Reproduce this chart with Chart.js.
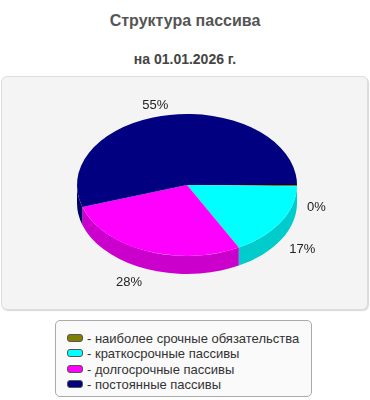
<!DOCTYPE html>
<html>
<head>
<meta charset="utf-8">
<script src="https://cdn.jsdelivr.net/npm/chart.js@4"></script>
<style>
  body { margin: 0; width: 370px; height: 400px; background: #fff; font-family: "Liberation Sans", Arial, sans-serif; position: relative; overflow: hidden; }
  .title { position: absolute; left: 0; width: 370px; text-align: center; font-weight: bold; }
  #t1 { top: 12px; font-size: 16px; color: #555; }
  #t2 { top: 51px; font-size: 14px; color: #444; }
  #panel { position: absolute; left: 1px; top: 76px; width: 365px; height: 232px; background: #f4f4f4; border: 1px solid #ddd; border-radius: 6px; box-shadow: 1px 1px 1px #d8d8d8; }
  #legend { position: absolute; left: 55px; top: 320px; width: 255px; height: 75px; background: #fafafa; border: 1px solid #aaa; border-radius: 5px; box-sizing: content-box; }
  .row { position: absolute; left: 11px; height: 15px; font-size: 13px; color: #333; line-height: 15px; white-space: nowrap; }
  .sw { display: inline-block; width: 14px; height: 6px; border: 1px solid #555; border-radius: 3px; margin-right: 4px; vertical-align: 1px; }
  #c { position: absolute; left: 0; top: 0; }
</style>
</head>
<body>
<div class="title" id="t1">Структура пассива</div>
<div class="title" id="t2">на 01.01.2026 г.</div>
<div id="panel"></div>
<div id="legend"></div>
<canvas id="c" width="370" height="400"></canvas>
<script>
const categories = ["наиболее срочные обязательства", "краткосрочные пассивы", "долгосрочные пассивы", "постоянные пассивы"];
const values = [0.3, 16.9, 27.8, 55.0];
const colors = ["#808000", "#00ffff", "#ff00ff", "#000080"];
const sideColors = ["#666600", "#00cccc", "#cc00cc", "#000066"];

const tilt = 0.645;
const depth = 18;
const total = values.reduce((a, b) => a + b, 0);

// html legend
const legend = document.getElementById("legend");
categories.forEach((name, i) => {
    const row = document.createElement("div");
    row.className = "row";
    row.style.top = (10 + i * 15.3) + "px";
    row.innerHTML = '<span class="sw" style="background:' + colors[i] + '"></span>- ' + name;
    legend.appendChild(row);
});

const norm = (a) => {
    const t = Math.PI * 2;
    return ((a % t) + t) % t;
};

const pie3d = {
    id: "pie3d",
    beforeDatasetsDraw(chart) {
        const ctx = chart.ctx;
        const arcs = chart.getDatasetMeta(0).data;
        const cx = arcs[0].x, cy = arcs[0].y;
        const rx = arcs[0].outerRadius, ry = rx * tilt;
        // side walls, front half only
        arcs.forEach((arc, i) => {
            let a0 = norm(arc.startAngle);
            let a1 = a0 + (arc.endAngle - arc.startAngle);
            const segs = [[a0, a1], [a0 - Math.PI * 2, a1 - Math.PI * 2]];
            segs.forEach(([s, e]) => {
                const s1 = Math.max(s, 0), e1 = Math.min(e, Math.PI);
                if (e1 <= s1) return;
                ctx.save();
                ctx.beginPath();
                ctx.ellipse(cx, cy, rx, ry, 0, s1, e1, false);
                ctx.lineTo(cx + rx * Math.cos(e1), cy + ry * Math.sin(e1) + depth);
                ctx.ellipse(cx, cy + depth, rx, ry, 0, e1, s1, true);
                ctx.closePath();
                ctx.fillStyle = sideColors[i];
                ctx.fill();
                ctx.restore();
            });
        });
        ctx.save();
        ctx.translate(cx, cy);
        ctx.scale(1, tilt);
        ctx.translate(-cx, -cy);
    },
    afterDatasetsDraw(chart) {
        const ctx = chart.ctx;
        ctx.restore();
        const arcs = chart.getDatasetMeta(0).data;
        const cx = arcs[0].x, cy = arcs[0].y;
        const rx = arcs[0].outerRadius, ry = rx * tilt;
        ctx.save();
        ctx.font = "13px 'Liberation Sans', Arial, sans-serif";
        ctx.fillStyle = "#222";
        ctx.textBaseline = "middle";
        arcs.forEach((arc, i) => {
            const m = (arc.startAngle + arc.endAngle) / 2;
            const c = Math.cos(m), s = Math.sin(m);
            let x = cx + (rx + 10) * c;
            let y = cy + (ry + 10) * s;
            if (s > -0.05) y += depth + 4;
            ctx.textAlign = c >= 0 ? "left" : "right";
            ctx.fillText(Math.round(values[i] / total * 100) + "%", x, y);
        });
        ctx.restore();
    }
};

new Chart(document.getElementById("c"), {
    type: "pie",
    data: {
        labels: categories,
        datasets: [
            {
                data: values,
                backgroundColor: colors,
                borderColor: colors,
                borderWidth: 0,
                clip: false,
            },
        ],
    },
    options: {
        responsive: false,
        animation: false,
        rotation: 90,
        layout: {
            padding: { left: 77, right: 73, top: 75, bottom: 105 },
        },
        plugins: {
            legend: { display: false },
            tooltip: { enabled: false },
        },
    },
    plugins: [pie3d],
});
</script>
</body>
</html>
